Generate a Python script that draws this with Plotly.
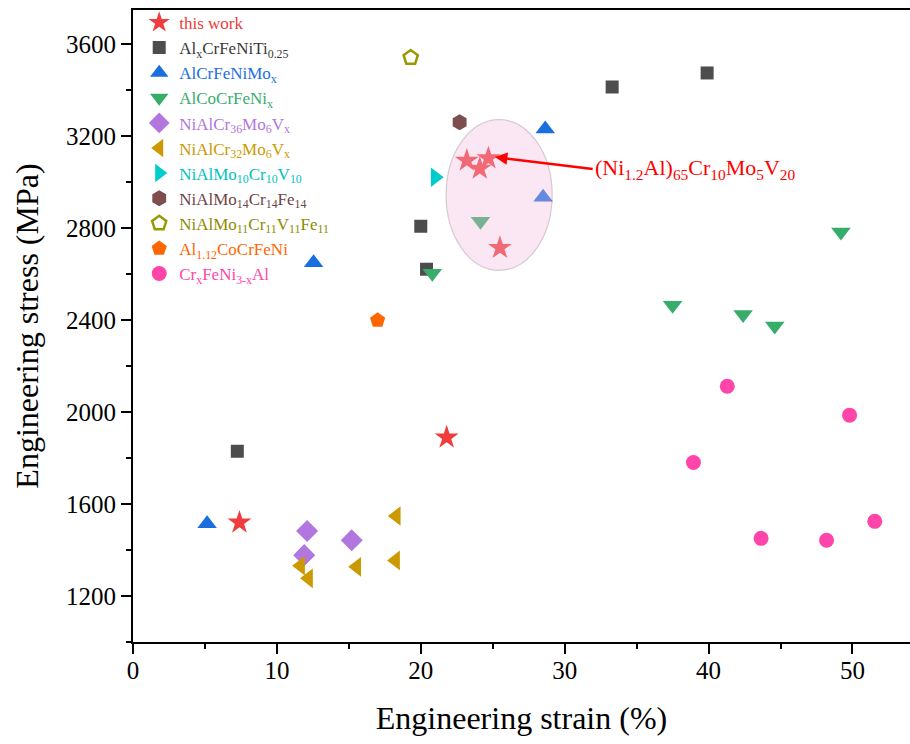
import plotly.graph_objects as go

# ---- data: engineering strain (%) and engineering stress (MPa) ----
this_work_x = [7.4, 21.8, 23.2, 24.7, 24.1, 25.5]
this_work_y = [1520, 1890, 3095, 3105, 3060, 2715]

alcrfeniti_x = [7.25, 20.0, 20.4, 33.3, 39.9]
alcrfeniti_y = [1830, 2809, 2622, 3415, 3476]

alcrfenimo_x = [5.15, 12.55, 28.65, 28.5]
alcrfenimo_y = [1515, 2650, 3232, 2935]

alcocrfeni_x = [24.15, 20.8, 37.5, 42.4, 44.6, 49.2]
alcocrfeni_y = [2831, 2604, 2465, 2425, 2375, 2784]

nialcr36_x = [12.1, 11.9, 15.2]
nialcr36_y = [1483, 1378, 1443]

nialcr32_x = [18.3, 11.65, 12.2, 15.55, 18.25]
nialcr32_y = [1548, 1332, 1277, 1327, 1355]

nialmo10_x = [21.0]
nialmo10_y = [3022]

nialmo14_x = [22.7]
nialmo14_y = [3262]

nialmo11_x = [19.3]
nialmo11_y = [3543]

al112_x = [17.0]
al112_y = [2400]

crfeni_x = [41.3, 49.8, 38.95, 43.65, 48.2, 51.55]
crfeni_y = [2113, 1987, 1781, 1451, 1443, 1525]

FONT = "Liberation Serif"

series = [
    ("this work", "#F03C3C", "#EE3B3B", "star", 18, this_work_x, this_work_y),
    ("Al<sub>x</sub>CrFeNiTi<sub>0.25</sub>", "#4D4D4D", "#3A3A3A", "square", 13, alcrfeniti_x, alcrfeniti_y),
    ("AlCrFeNiMo<sub>x</sub>", "#1A6FDF", "#1A6FDF", "triangle-up", 17, alcrfenimo_x, alcrfenimo_y),
    ("AlCoCrFeNi<sub>x</sub>", "#37AD6B", "#37AD6B", "triangle-down", 17, alcocrfeni_x, alcocrfeni_y),
    ("NiAlCr<sub>36</sub>Mo<sub>6</sub>V<sub>x</sub>", "#B177DE", "#B177DE", "diamond", 17, nialcr36_x, nialcr36_y),
    ("NiAlCr<sub>32</sub>Mo<sub>6</sub>V<sub>x</sub>", "#CC9900", "#CC9900", "triangle-left", 17, nialcr32_x, nialcr32_y),
    ("NiAlMo<sub>10</sub>Cr<sub>10</sub>V<sub>10</sub>", "#00CCCC", "#00C2C2", "triangle-right", 17, nialmo10_x, nialmo10_y),
    ("NiAlMo<sub>14</sub>Cr<sub>14</sub>Fe<sub>14</sub>", "#7E4D4D", "#6E4444", "hexagon", 16, nialmo14_x, nialmo14_y),
    ("NiAlMo<sub>11</sub>Cr<sub>11</sub>V<sub>11</sub>Fe<sub>11</sub>", "#999900", "#8C8C00", "pentagon", 15, nialmo11_x, nialmo11_y),
    ("Al<sub>1.12</sub>CoCrFeNi", "#FF6600", "#FF6600", "pentagon", 16, al112_x, al112_y),
    ("Cr<sub>x</sub>FeNi<sub>3-x</sub>Al", "#FF44AA", "#FF44AA", "circle", 15, crfeni_x, crfeni_y),
]

fig = go.Figure()
for name, mcolor, tcolor, symbol, size, xs, ys in series:
    if name.startswith("NiAlMo<sub>11"):
        marker = dict(symbol=symbol, size=size, color="white",
                      line=dict(color=mcolor, width=2.5))
    else:
        marker = dict(symbol=symbol, size=size, color=mcolor, line=dict(width=0))
    fig.add_trace(go.Scatter(
        x=xs, y=ys, mode="markers", marker=marker,
        name=f'<span style="color:{tcolor}">{name}</span>',
    ))

# highlight region around this work's alloys
fig.add_shape(
    type="circle", xref="x", yref="y",
    x0=21.76, x1=29.13, y0=2617, y1=3273,
    fillcolor="#F4BCDD", opacity=0.35, layer="above",
    line=dict(color="#8A6A80", width=1.2),
)

fig.add_annotation(
    x=25.15, y=3110, xref="x", yref="y",
    ax=31.95, ay=3058, axref="x", ayref="y",
    text="(Ni<sub>1.2</sub>Al)<sub>65</sub>Cr<sub>10</sub>Mo<sub>5</sub>V<sub>20</sub>",
    font=dict(family=FONT, size=22, color="#FF0000"),
    xanchor="left", yanchor="middle",
    showarrow=True, arrowhead=2, arrowsize=1, arrowwidth=2.5, arrowcolor="#FF0000",
)

fig.update_layout(
    width=910, height=744,
    margin=dict(l=133, r=0, t=10, b=102),
    paper_bgcolor="white", plot_bgcolor="white",
    font=dict(family=FONT, color="black"),
    showlegend=True,
    legend=dict(
        x=0.008, y=1.008, xanchor="left", yanchor="top",
        bgcolor="rgba(0,0,0,0)", borderwidth=0,
        font=dict(family=FONT, size=17),
        tracegroupgap=0, itemsizing="trace",
    ),
)

fig.update_xaxes(
    range=[0, 54], showgrid=False, zeroline=False,
    showline=True, linecolor="black", linewidth=2, mirror=True,
    ticks="outside", ticklen=10, tickwidth=2, tickcolor="black",
    tick0=0, dtick=10, ticklabelstandoff=-5,
    minor=dict(ticks="outside", ticklen=5, tickwidth=2, tickcolor="black", dtick=5),
    tickfont=dict(family=FONT, size=25),
    title=dict(text="Engineering strain (%)", font=dict(family=FONT, size=32), standoff=24),
)

fig.update_yaxes(
    range=[1000, 3750], showgrid=False, zeroline=False,
    showline=True, linecolor="black", linewidth=2,
    ticks="outside", ticklen=10, tickwidth=2, tickcolor="black",
    tick0=1200, dtick=400,
    minor=dict(ticks="outside", ticklen=5, tickwidth=2, tickcolor="black", tick0=1000, dtick=200),
    tickfont=dict(family=FONT, size=25),
    title=dict(text="Engineering stress (MPa)", font=dict(family=FONT, size=32), standoff=18),
)

fig.write_html("out.html")
